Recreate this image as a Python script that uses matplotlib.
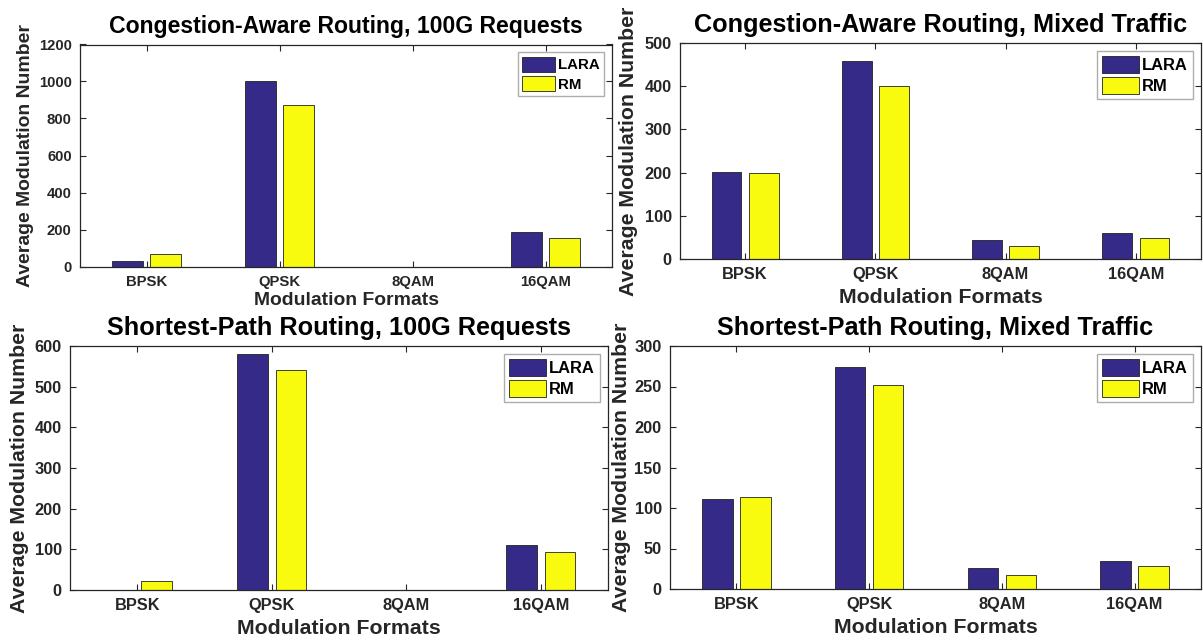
import numpy as np
import matplotlib
matplotlib.use("Agg")
import matplotlib.pyplot as plt

plt.rcParams['font.family'] = ['Liberation Sans', 'DejaVu Sans']
plt.rcParams['font.weight'] = 'bold'

formats = ["BPSK", "QPSK", "8QAM", "16QAM"]
series_names = ["LARA", "RM"]

ca_100g_lara = [29, 1004, 0, 189]
ca_100g_rm = [65, 871, 0, 156]
ca_mixed_lara = [201, 458, 44, 60]
ca_mixed_rm = [200, 400, 30, 49]
sp_100g_lara = [0, 580, 0, 110]
sp_100g_rm = [21, 542, 0, 93]
sp_mixed_lara = [111, 274, 25.5, 35]
sp_mixed_rm = [113, 252, 17.7, 29]

titles = ["Congestion-Aware Routing, 100G Requests",
          "Congestion-Aware Routing, Mixed Traffic",
          "Shortest-Path Routing, 100G Requests",
          "Shortest-Path Routing, Mixed Traffic"]
ylims = [1200, 500, 600, 300]
ysteps = [200, 100, 100, 50]
data = [(ca_100g_lara, ca_100g_rm), (ca_mixed_lara, ca_mixed_rm),
        (sp_100g_lara, sp_100g_rm), (sp_mixed_lara, sp_mixed_rm)]

# axes boxes in pixels (left, right, top, bottom) of a 1203x641 figure
W, H = 1203, 641
boxes = [(80, 612, 44.5, 266.5), (680, 1201, 43, 259),
         (70, 608, 346, 590), (670, 1201, 346, 589)]
# right edge of the rotated y label, in pixels
ylabel_x = [34, 638, 29, 631]
# the top-left panel was exported a bit smaller than the others
fscale = [0.91, 1.0, 1.0, 1.0]
xlabpad = [2, 4, 4, 4]

colors = ["#352A87", "#F9FB0E"]
text_col = "#262626"

fig = plt.figure(figsize=(W / 100, H / 100), dpi=100)

x = np.arange(1, len(formats) + 1)
bw = 0.229
offs = [-0.143, 0.143]

for i in range(4):
    l, r, t, b = boxes[i]
    fs = fscale[i]
    ax = fig.add_axes([l / W, 1 - b / H, (r - l) / W, (b - t) / H])
    for k, vals in enumerate(data[i]):
        ax.bar(x + offs[k], vals, width=bw, color=colors[k],
               edgecolor="#222222", linewidth=0.6, label=series_names[k])
    ax.set_xlim(0.5, 4.5)
    ax.set_ylim(0, ylims[i])
    ax.set_yticks(np.arange(0, ylims[i] + 1, ysteps[i]))
    ax.set_xticks(x)
    ax.set_xticklabels(formats)
    ax.tick_params(direction="in", top=True, right=True, length=4,
                   width=0.8, colors=text_col, labelsize=11.8 * fs, pad=6)
    for s in ax.spines.values():
        s.set_color(text_col)
        s.set_linewidth(0.9)
    for lab in ax.get_xticklabels() + ax.get_yticklabels():
        lab.set_fontweight("bold")
    ax.set_title(titles[i], fontsize=18.2 * fs, fontweight="bold", pad=8)
    ax.set_xlabel("Modulation Formats", fontsize=15.3 * fs, fontweight="bold",
                  color=text_col, labelpad=xlabpad[i])
    ax.set_ylabel("Average Modulation Number", fontsize=15.3 * fs,
                  fontweight="bold", color=text_col)
    ax.yaxis.set_label_coords((ylabel_x[i] - l) / (r - l), 0.5)
    leg = ax.legend(loc="upper right", fontsize=11.9 * fs, frameon=True,
                    fancybox=False, edgecolor="#999999", handlelength=2.2,
                    handleheight=1.2, handletextpad=0.2, borderpad=0.3,
                    labelspacing=0.25, borderaxespad=0.5)
    leg.get_frame().set_linewidth(1.0)
    for txt in leg.get_texts():
        txt.set_fontweight("bold")

fig.savefig("out.png", dpi=100)
